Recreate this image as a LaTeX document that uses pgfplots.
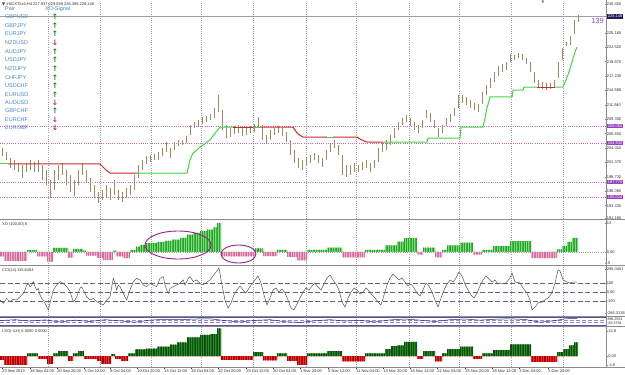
\documentclass[border=0pt]{standalone}
\usepackage{pgfplots}
\pgfplotsset{compat=1.18}
\usepackage{pgfplotstable}
\usepackage{fontspec}
\setmainfont{Liberation Sans}
\newfontfamily\dejavu{DejaVu Sans}
\usetikzlibrary{patterns.meta,shapes.geometric}

\definecolor{barc}{HTML}{A8865E}
\definecolor{lred}{HTML}{CC2A2A}
\definecolor{lgreen}{HTML}{3FD83F}
\definecolor{gridc}{HTML}{A0A0A0}
\definecolor{sepc}{HTML}{8C8C8C}
\definecolor{purp}{HTML}{CC66CC}
\definecolor{purpbox}{HTML}{9A3FC0}
\definecolor{navyb}{HTML}{1E1E5A}
\definecolor{pairc}{HTML}{4A86C0}
\definecolor{upc}{HTML}{1E7A2A}
\definecolor{dnc}{HTML}{C02848}
\definecolor{xog}{HTML}{74E274}
\definecolor{xogd}{HTML}{2E9E2E}
\definecolor{xop}{HTML}{EEB0CC}
\definecolor{xopd}{HTML}{D0709A}
\definecolor{lsog}{HTML}{2A8A2A}
\definecolor{lsogd}{HTML}{0E4E0E}
\definecolor{lsor}{HTML}{F03030}
\definecolor{lsord}{HTML}{A80000}
\definecolor{ccic}{HTML}{4E5E4A}
\definecolor{ccid}{HTML}{725A80}
\definecolor{ellc}{HTML}{A0208A}
\definecolor{thinb}{HTML}{5A50A8}
\definecolor{thinw}{HTML}{1E2878}
\definecolor{thind}{HTML}{9A8AC8}
\definecolor{ttext}{HTML}{303030}

\pgfplotstableread{
x lo hi
2 202.54 204.01
6 201.81 203.28
10 200.34 202.18
14 199.97 201.81
18 199.61 201.26
22 198.50 200.89
26 199.61 201.26
30 199.97 201.81
34 199.61 201.44
38 199.61 201.81
42 198.14 200.89
46 197.22 199.97
50 194.83 198.14
54 196.30 199.97
58 198.14 200.89
62 199.06 201.26
66 197.22 199.97
70 195.93 199.06
74 195.20 198.14
78 197.22 199.97
82 199.06 201.26
86 197.77 199.97
90 195.93 198.50
94 194.83 197.22
98 193.91 195.93
102 194.47 196.30
106 195.02 197.22
110 194.47 196.67
114 195.38 198.14
118 194.47 196.30
122 194.10 195.93
126 194.83 196.67
130 195.38 197.22
134 196.30 199.06
138 198.50 200.89
142 199.97 201.81
146 201.08 202.54
150 201.44 202.73
154 201.81 202.91
158 201.81 203.28
162 202.54 204.01
166 203.28 205.11
170 202.18 204.01
174 203.65 205.11
178 204.38 205.48
182 204.56 205.48
186 204.93 206.22
190 206.40 208.24
194 207.68 208.79
198 208.05 209.15
202 208.42 209.70
206 208.79 209.89
210 209.15 210.25
214 209.52 211.36
218 210.62 213.74
222 207.32 210.99
226 205.85 208.24
230 206.03 207.68
234 206.58 208.05
238 206.77 208.24
242 206.22 207.87
246 206.40 207.68
250 206.77 208.05
254 206.95 208.42
258 207.68 209.70
262 205.48 208.24
266 204.93 206.40
270 205.48 207.32
274 206.40 207.68
278 206.77 208.05
282 206.22 207.68
286 205.11 206.95
290 202.73 205.48
294 201.26 203.65
298 200.34 202.18
302 199.97 201.81
306 200.89 202.36
310 201.26 202.73
314 201.81 203.09
318 201.26 202.73
322 200.52 202.18
326 201.81 203.65
330 203.28 204.93
334 204.01 205.48
338 202.73 204.56
342 199.06 202.73
346 198.69 200.89
350 199.06 200.89
354 199.61 201.26
358 199.61 200.89
362 199.97 201.44
366 200.34 201.81
370 199.61 201.26
374 200.34 201.81
378 201.44 204.01
382 203.28 204.93
386 203.65 205.48
390 204.56 206.40
394 205.85 207.68
398 207.32 208.79
402 208.24 209.52
406 208.79 210.07
410 208.05 209.52
414 207.32 208.79
418 206.77 208.24
422 207.68 209.15
426 209.52 210.99
430 208.79 210.44
434 207.68 209.15
438 206.03 207.68
442 206.77 208.24
446 208.05 209.52
450 208.79 210.25
454 209.89 211.36
458 211.36 213.74
462 212.27 213.74
466 211.91 213.38
470 211.36 212.83
474 210.99 212.27
478 210.62 212.09
482 212.09 214.29
486 213.74 215.58
490 215.03 216.86
494 216.13 217.97
498 217.23 219.07
502 217.97 219.43
506 218.33 219.80
510 219.80 221.27
514 220.17 221.09
518 220.54 221.45
522 220.17 221.27
526 219.43 220.54
530 217.97 219.80
534 215.95 217.97
538 215.21 216.50
542 214.84 216.13
546 214.66 215.95
550 214.84 215.95
554 215.03 216.50
558 216.86 219.80
562 220.17 222.37
566 222.74 223.47
570 222.92 224.58
574 224.94 227.51
578 227.15 228.43
}\pricetab

\pgfplotstableread{
x pos neg
0 0 -2.0
4 0 -4.0
27 0.8 0
37 0 -2.0
47 0 -4.3
53 1.8 0
68 0 -2.5
73 1.4 0
83 0.6 0
86 0 -1.6
97 0 -2.6
103 0 -3.6
113 0.6 0
116 0 -2.0
123 0 -2.8
130 1.0 0
136 2.4 0
140 3.2 0
146 4.0 0
157 4.5 0
165 5.0 0
172 5.6 0
180 6.3 0
187 7.8 0
193 8.6 0
200 9.4 0
207 10.0 0
213 11.0 0
217 13.0 0
221 0 -2.0
255 1.6 0
263 0 -1.8
277 1.0 0
287 0 -2.2
297 0 -3.8
307 1.0 0
327 2.0 0
342 0 -2.4
365 1.0 0
385 3.0 0
397 4.6 0
404 6.2 0
417 0 -1.2
423 2.0 0
435 0 -2.4
442 1.0 0
447 3.0 0
460 4.2 0
473 0 -1.2
482 1.0 0
493 2.6 0
510 4.9 0
531 0 -2.7
557 1.2 0
562 2.8 0
567 4.5 0
572 6.3 0
578 0 0
}\xotab

\pgfplotstableread{
x pos neg
0 0 -2.0
4 0 -4.6
27 1.4 0
38 0 -1.5
47 0 -4.0
53 1.4 0
58 2.5 0
68 0 -2.5
73 1.4 0
78 2.5 0
84 0 -1.5
97 0 -2.5
101 0 -4.0
111 1.0 0
115 0 -1.5
121 0 -2.5
128 1.4 0
135 3.4 0
146 3.8 0
157 4.8 0
170 5.8 0
177 7.0 0
187 9.6 0
200 10.8 0
210 11.2 0
217 14.2 0
221 0 -2.0
253 2.0 0
263 0 -2.2
277 1.4 0
287 0 -2.5
297 0 -4.5
307 1.4 0
327 2.5 0
342 0 -2.8
365 1.4 0
385 3.5 0
391 5.0 0
397 5.5 0
404 7.2 0
417 0 -1.5
423 2.5 0
435 0 -2.8
442 1.4 0
447 3.5 0
460 4.8 0
473 0 -1.5
482 1.4 0
493 3.0 0
510 6.0 0
531 0 -3.0
557 2.0 0
563 3.5 0
569 5.5 0
574 7.0 0
578 0 0
}\lsotab

\pgfplotstableread{
x v
0 -89
3.3 -126
6.7 -70
10 -107
13.3 -81
16.7 -89
20 -52
23.3 -15
25 22
26.7 78
28.3 96
30 59
31.7 78
33.3 115
35 59
36.7 22
38.3 41
40 -33
41.7 -70
43.3 -89
46.7 -163
48.3 -200
50 -126
51.7 -52
53.3 22
56.7 78
60 115
63.3 96
66.7 59
70 4
71.7 -52
73.3 -107
75 -89
76.7 -52
80 41
81.7 59
83.3 22
85 -15
86.7 -52
90 -89
93.3 -70
96.7 -107
100 -126
103.3 -144
106.7 -89
110 -52
113.3 152
115 96
116.7 22
118.3 78
120 59
123.3 -15
126.7 -89
128.3 -33
130 22
133.3 115
136.7 152
140 133
143.3 78
146.7 59
150 96
153.3 78
156.7 59
160 152
163.3 170
165 78
166.7 22
168.3 -15
170 41
173.3 59
176.7 78
180 96
183.3 133
185 78
186.7 115
188.3 152
190 170
193.3 115
196.7 133
200 96
203 78
207 111
210 133
213 178
216 222
219 266
222 78
225 -89
228 -178
231 -122
234 -33
237 22
240 67
243 22
246 -11
249 44
252 89
255 133
258 178
261 100
264 -33
267 -144
270 -67
273 22
276 44
279 0
282 33
285 -11
288 -89
291 -178
294 -200
297 -133
300 -67
303 0
306 44
309 22
312 67
315 100
318 55
321 22
324 89
327 155
330 189
333 133
336 89
339 22
342 -111
345 -167
348 -67
351 0
354 44
357 22
360 -22
363 0
366 44
369 11
372 -33
375 -67
378 -111
381 -144
384 -33
387 78
390 155
393 200
396 167
399 133
402 155
405 111
408 67
411 89
414 44
417 -11
420 -44
423 22
426 100
429 67
432 0
435 -89
438 -167
441 -67
444 22
447 89
450 133
453 111
456 155
459 222
462 178
465 89
468 22
471 -33
474 -67
477 -11
480 67
483 133
486 178
489 144
492 111
495 133
498 89
500 100
505 89
510 155
512 211
515 111
520 100
523 44
527 -11
530 -89
532 -200
535 -167
538 -122
542 -111
545 -89
548 -67
552 -11
555 100
558 244
560 233
563 133
567 111
570 100
573 111
577 111
}\ccitab

\pgfplotstableread{
x v
0 20
15 40
30 10
45 35
60 -10
75 30
90 0
105 40
120 15
135 -15
150 30
165 50
180 40
195 55
210 60
225 20
240 -10
255 25
270 40
285 -5
300 -20
315 15
330 40
345 10
360 25
375 -10
390 35
405 55
420 30
435 0
450 40
465 55
480 30
495 50
510 60
525 45
540 -15
555 20
565 60
577 65
}\thintab

\pgfplotsset{
  mt/.style={
    scale only axis, width=606bp, xmin=0, xmax=606,
    axis line style={draw=none},
    xtick={48,100,151,201,253,306,356,409,459,511,563}, xticklabels={},
    xmajorgrids,
    major grid style={gridc, line width=0.5bp, dash pattern=on 0.8bp off 1.4bp},
    ytick pos=right, yticklabel pos=right,
    xtick style={draw=none},
    ytick style={draw=sepc, line width=0.4bp},
    major tick length=1.5bp,
    tick label style={font=\fontsize{4}{4.5}\selectfont, text=ttext},
    yticklabel style={anchor=west, inner sep=0.6bp},
    /pgf/number format/assume math mode=true,
  },
}

\begin{document}
\begin{tikzpicture}
\fill[white] (0,0) rectangle (625bp,-375bp);
\useasboundingbox (0,0) rectangle (625bp,-375bp);

% ---------- main price panel
\begin{axis}[mt, at={(0bp,-2bp)}, anchor=north west, height=217bp,
  ymin=190.98, ymax=230.82,
  ytick={230.45,225.16,222.52,219.87,217.23,214.59,211.94,209.30,206.65,204.01,201.37,198.72,196.08,193.43,191.16},
  y tick label style={/pgf/number format/fixed, /pgf/number format/fixed zerofill, /pgf/number format/precision=3}]
\addplot[purp, line width=0.5bp, dash pattern=on 1bp off 1.2bp] coordinates {(0,208.05) (606,208.05)};
\addplot[purp, line width=0.5bp, dash pattern=on 1bp off 1.2bp] coordinates {(0,204.93) (606,204.93)};
\addplot[purp, line width=0.5bp, dash pattern=on 1bp off 1.2bp] coordinates {(0,197.77) (606,197.77)};
\addplot[purp, line width=0.5bp, dash pattern=on 1bp off 1.2bp] coordinates {(0,195.02) (606,195.02)};
\addplot[gray!75, line width=0.6bp] coordinates {(0,228.148) (606,228.148)};
\addplot[draw=none, mark=none,
  error bars/.cd, y dir=plus, y explicit, error mark=none,
  error bar style={line width=0.8bp, draw=barc, solid}]
  table[x=x, y=lo, y error expr=\thisrow{hi}-\thisrow{lo}] {\pricetab};
\addplot[lgreen, line width=1bp] coordinates {(0,201.08) (8,201.08)};
\addplot[lred, line width=1bp] coordinates {(8,201.08) (100,201.08) (103,200.52) (106,199.97) (110,199.42) (137,199.42)};
\addplot[lgreen, line width=1bp] coordinates {(137,199.42) (187,199.42) (190,201.81) (193,203.09) (197,203.65) (200,204.20) (203,204.56) (207,205.11) (210,205.48) (213,206.22) (216,206.95) (220,207.87) (233,207.87)};
\addplot[lred, line width=1bp] coordinates {(233,207.87) (253,207.87)};
\addplot[lgreen, line width=1bp] coordinates {(253,207.87) (260,207.87)};
\addplot[lred, line width=1bp] coordinates {(260,207.87) (293,207.87) (295,207.32) (298,206.58) (303,206.03) (327,206.03)};
\addplot[lgreen, line width=1bp] coordinates {(327,206.03) (333,206.03)};
\addplot[lred, line width=1bp] coordinates {(333,206.03) (357,206.03) (360,205.66) (364,205.30) (367,205.11) (383,205.11)};
\addplot[lgreen, line width=1bp] coordinates {(383,205.11) (427,205.11) (428,205.85) (460,205.85) (461,207.87) (483,207.87) (485,209.52) (487,211.36) (490,213.38) (512,213.38) (513,214.66) (523,214.66) (524,215.21) (537,215.21)};
\addplot[lred, line width=1bp] coordinates {(537,215.21) (555,215.21)};
\addplot[lgreen, line width=1bp] coordinates {(555,215.21) (563,215.21) (566,216.50) (569,217.97) (572,219.80) (575,221.64) (577,222.56)};
\end{axis}

% ---------- XO panel
\begin{axis}[mt, at={(0bp,-220bp)}, anchor=north west, height=44bp,
  ymin=-5.38, ymax=14.34, ytick={13,0,-5}, yticklabels={13,0.00,-5}]
\addplot[gridc, line width=0.5bp, dash pattern=on 0.8bp off 1.4bp] coordinates {(0,0) (606,0)};
\addplot[ybar interval, draw=none, fill=xog,
  postaction={pattern={Lines[angle=90,distance=1.7bp,line width=0.4bp]}, pattern color=xogd}]
  table[x=x, y=pos] {\xotab};
\addplot[ybar interval, draw=none, fill=xop,
  postaction={pattern={Lines[angle=90,distance=1.7bp,line width=0.5bp]}, pattern color=xopd}]
  table[x=x, y=neg] {\xotab};
\end{axis}

% ---------- CCI panel
\begin{axis}[mt, at={(0bp,-266bp)}, anchor=north west, height=50bp,
  ymin=-266.4, ymax=288.6, ytick={255,100,0,-100,-233},
  yticklabels={285.0451,100,0.00,-100,-266.3136}]
\addplot[ccid, line width=0.7bp, dash pattern=on 5bp off 2.5bp] coordinates {(0,100) (606,100)};
\addplot[ccid, line width=0.7bp, dash pattern=on 5bp off 2.5bp] coordinates {(0,0) (606,0)};
\addplot[ccid, line width=0.7bp, dash pattern=on 5bp off 2.5bp] coordinates {(0,-100) (606,-100)};
\addplot[ccic, line width=0.5bp] table[x=x, y=v] {\ccitab};
\end{axis}

% ---------- thin panel
\begin{axis}[mt, at={(0bp,-317bp)}, anchor=north west, height=9bp,
  ymin=-100, ymax=100, ytick=\empty]
\addplot[thinb, line width=0.7bp] coordinates {(0,85) (606,85)};
\addplot[thinb, line width=0.7bp] coordinates {(0,-85) (606,-85)};
\addplot[thind, line width=0.6bp, dash pattern=on 4bp off 2bp] coordinates {(0,35) (606,35)};
\addplot[thind, line width=0.6bp, dash pattern=on 4bp off 2bp] coordinates {(0,-25) (606,-25)};
\addplot[thinw, line width=0.5bp] table[x=x, y=v] {\thintab};
\end{axis}

% ---------- LSO panel with time axis
\begin{axis}[mt, at={(0bp,-327bp)}, anchor=north west, height=40bp,
  ymin=-5.63, ymax=14.85, ytick={12.8,0,-4.8}, yticklabels={12.8,0.00,-4.8},
  xmajorgrids=false,
  xtick={2,30,57,84,110,137,164,191,218,246,273,300,328,356,383,410,437,465,492,519,548},
  xticklabels={23 Sep 2013,26 Sep 04:00,30 Sep 20:00,3 Oct 12:00,8 Oct 04:00,10 Oct 20:00,15 Oct 12:00,18 Oct 04:00,22 Oct 20:00,25 Oct 12:00,30 Oct 04:00,1 Nov 20:00,6 Nov 12:00,11 Nov 04:00,13 Nov 20:00,18 Nov 12:00,21 Nov 04:00,25 Nov 20:00,28 Nov 12:00,3 Dec 04:00,5 Dec 20:00},
  xtick pos=bottom, xtick style={draw=ttext, line width=0.4bp}, tick align=outside,
  xticklabel style={anchor=north west, inner sep=0.6bp, xshift=-0.5bp},
  extra x ticks={48,100,151,201,253,306,356,409,459,511,563},
  extra x tick labels={},
  extra x tick style={grid=major, xtick style={draw=none}}]
\addplot[ybar interval, draw=none, fill=lsog,
  postaction={pattern={Lines[angle=90,distance=1.7bp,line width=0.45bp]}, pattern color=lsogd}]
  table[x=x, y=pos] {\lsotab};
\addplot[ybar interval, draw=none, fill=lsor,
  postaction={pattern={Lines[angle=90,distance=1.7bp,line width=0.45bp]}, pattern color=lsord}]
  table[x=x, y=neg] {\lsotab};
\end{axis}

% ---------- frame / separators
\foreach \yy in {219.5,265,316.5,326.5,367} {
  \draw[sepc, line width=0.7bp] (0bp,-\yy bp) -- (625bp,-\yy bp);
}
\draw[sepc, line width=0.7bp] (606.5bp,0bp) -- (606.5bp,-367bp);

% ---------- right side boxes
\node[fill=navyb, text=white, font=\fontsize{4}{4.5}\selectfont, inner sep=0.7bp, anchor=west] at (607bp,-16.5bp) {228.148};
\foreach \yy/\vv in {126/208.050,143/204.930,182/197.770,197/195.020} {
  \node[fill=purpbox, text=white, font=\fontsize{4}{4.5}\selectfont, inner sep=0.7bp, anchor=west] at (607bp,-\yy bp) {\vv};
}
\node[text=ttext, font=\fontsize{3.6}{4}\selectfont, inner sep=0.3bp, anchor=west] at (607bp,-319bp) {888.2554};
\node[text=ttext, font=\fontsize{3.6}{4}\selectfont, inner sep=0.3bp, anchor=west] at (607bp,-323.5bp) {-83.3794};

\node[text=purpbox, font=\fontsize{7.5}{8}\selectfont, inner sep=0, anchor=east] at (604bp,-21bp) {139};
\node[text=gray, font=\dejavu\fontsize{4}{4}\selectfont, inner sep=0] at (543bp,-2.5bp) {▼};

% ---------- header and panel labels
\node[text=ttext, font=\fontsize{4}{4.5}\selectfont, inner sep=0, anchor=west] at (2bp,-4.5bp) {{\dejavu ▼} \#SGXT2x4,H4  227.937 229.659 226.388 228.148};
\node[text=pairc, font=\fontsize{5.5}{6}\selectfont, inner sep=0, anchor=west] at (5bp,-9bp) {Pair};
\node[text=pairc, font=\fontsize{5.5}{6}\selectfont, inner sep=0, anchor=west] at (45bp,-9bp) {XO-Signal};
\foreach \n/\y/\a/\c in {GBPUSD/16.3/↑/upc, GBPJPY/25.3/↑/upc, EURJPY/34/↑/upc, NZDUSD/42.7/↓/dnc,
  AUDJPY/51.7/↑/upc, USDJPY/60/↑/upc, NZDJPY/69/↑/upc, CHFJPY/77.3/↑/upc, USDCHF/86/↑/upc,
  EURUSD/94.3/↑/upc, AUDUSD/102.7/↓/dnc, GBPCHF/111/↑/upc, EURCHF/119.3/↓/dnc, EURGBP/127.7/↓/dnc} {
  \node[text=pairc, font=\fontsize{5.5}{6}\selectfont, inner sep=0, anchor=west] at (5bp,-\y bp) {\n};
  \node[text=\c, font=\dejavu\bfseries\fontsize{7.5}{7.5}\selectfont, inner sep=0] at (55bp,-\y bp) {\a};
}
\node[text=ttext, font=\fontsize{4}{4.5}\selectfont, inner sep=0, anchor=west] at (2bp,-224.5bp) {XO (100,00) 6};
\node[text=ttext, font=\fontsize{4}{4.5}\selectfont, inner sep=0, anchor=west] at (2bp,-270bp) {CCI(14) 115.6454};
\node[text=ttext, font=\fontsize{4}{4.5}\selectfont, inner sep=0, anchor=west] at (2bp,-331bp) {LSO(-4,H) 6.0000 0.0000};

% ---------- annotation ellipses
\node[draw=ellc, line width=0.9bp, ellipse, minimum width=66bp, minimum height=28bp, inner sep=0] at (178bp,-245bp) {};
\node[draw=ellc, line width=0.9bp, ellipse, minimum width=35bp, minimum height=18bp, inner sep=0] at (238.5bp,-254bp) {};
\end{tikzpicture}
\end{document}
